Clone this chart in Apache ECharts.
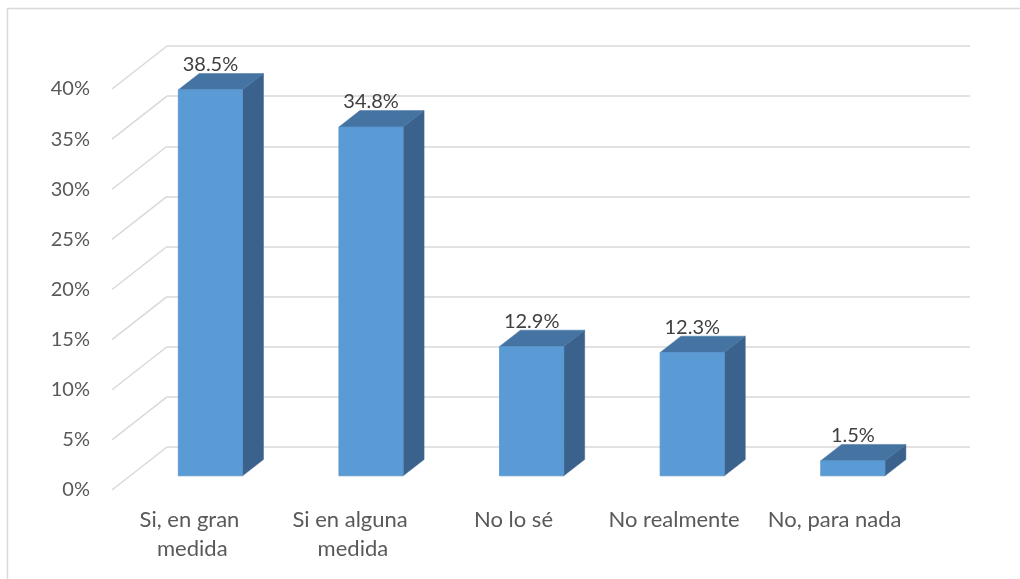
<!DOCTYPE html>
<html>
<head>
<meta charset="utf-8">
<script src="https://cdn.jsdelivr.net/npm/echarts@6/dist/echarts.min.js"></script>
<style>
html,body{margin:0;padding:0;background:#fff;}
#chart{width:1020px;height:579px;}
</style>
</head>
<body>
<div id="chart"></div>
<script>
// ---- data ----
const categories = ['Si, en gran medida', 'Si en alguna medida', 'No lo sé', 'No realmente', 'No, para nada'];
const values = [38.5, 34.8, 12.9, 12.3, 1.5];
const tickValues = [0, 5, 10, 15, 20, 25, 30, 35, 40];

// ---- 3D projection constants (oblique depth vector from back wall to front plane) ----
const DEPTH_X = -55, DEPTH_Y = 43;
const BAR_FRONT = 0.67, BAR_BACK = 0.29;
const FONT = 'Lato, "Open Sans", sans-serif';

const chart = echarts.init(document.getElementById('chart'), null, {renderer: 'canvas'});

const option = {
  animation: false,
  backgroundColor: '#ffffff',
  graphic: [{
    type: 'rect', z: -10,
    shape: {x: 7.5, y: 8.5, width: 1100, height: 700},
    style: {fill: 'none', stroke: '#D9D9D9', lineWidth: 1.5}
  }],
  grid: [
    // back wall
    {left: 167, right: 50, top: 46, bottom: 132},
    // front plane (for labels)
    {left: 112, right: 105, top: 89, bottom: 89}
  ],
  xAxis: [
    {type: 'category', gridIndex: 0, data: categories,
     axisLine: {show: false}, axisTick: {show: false}, axisLabel: {show: false}, splitLine: {show: false}},
    {type: 'category', gridIndex: 1, data: categories,
     axisLine: {show: false}, axisTick: {show: false}, splitLine: {show: false},
     axisLabel: {interval: 0, margin: 15, color: '#595959', fontSize: 22, fontFamily: FONT,
                 lineHeight: 29, width: 150, overflow: 'break', align: 'center'}}
  ],
  yAxis: [
    {type: 'value', gridIndex: 0, min: 0, max: 40, interval: 5,
     axisLine: {show: false}, axisTick: {show: false}, axisLabel: {show: false},
     splitLine: {show: true, lineStyle: {color: '#D9D9D9', width: 1.5}}},
    {type: 'value', gridIndex: 1, min: 0, max: 40, interval: 5,
     axisLine: {show: false}, axisTick: {show: false}, splitLine: {show: false},
     axisLabel: {margin: 22, color: '#595959', fontSize: 20, fontFamily: FONT,
                 formatter: v => v + '%'}}
  ],
  series: [
    {
      // side-wall diagonal gridlines
      type: 'custom', xAxisIndex: 0, yAxisIndex: 0, silent: true, z: 1,
      data: tickValues.map(v => [0, v]),
      renderItem: function (params, api) {
        const p = api.coord([0, api.value(1)]);
        const x = params.coordSys.x;
        return {
          type: 'line',
          shape: {x1: x, y1: p[1], x2: x + DEPTH_X, y2: p[1] + DEPTH_Y},
          style: {stroke: '#D9D9D9', lineWidth: 1.5}
        };
      }
    },
    {
      // 3D bars
      type: 'custom', xAxisIndex: 0, yAxisIndex: 0, z: 5,
      data: values.map((v, i) => [i, v]),
      renderItem: function (params, api) {
        const i = api.value(0), v = api.value(1);
        const top = api.coord([i, v]);
        const base = api.coord([i, 0]);
        const w = api.size([1, 0])[0] * 0.4;
        const cx = top[0] + DEPTH_X * BAR_FRONT;
        const xL = cx - w / 2, xR = cx + w / 2;
        const yT = top[1] + DEPTH_Y * BAR_FRONT;
        const yB = base[1] + DEPTH_Y * BAR_FRONT;
        const dx = DEPTH_X * (BAR_BACK - BAR_FRONT);
        const dy = DEPTH_Y * (BAR_BACK - BAR_FRONT);
        return {
          type: 'group',
          children: [
            {type: 'polygon', shape: {points: [[xR, yT], [xR + dx, yT + dy], [xR + dx, yB + dy], [xR, yB]]},
             style: {fill: '#3A628C', stroke: '#3A628C', lineWidth: 0.5}},
            {type: 'polygon', shape: {points: [[xL, yT], [xR, yT], [xR + dx, yT + dy], [xL + dx, yT + dy]]},
             style: {fill: '#4574A3', stroke: '#4574A3', lineWidth: 0.5}},
            {type: 'rect', shape: {x: xL, y: yT, width: w, height: yB - yT},
             style: {fill: '#5B9BD5', stroke: '#5793CB', lineWidth: 0.8}},
            {type: 'text',
             style: {text: v.toFixed(1) + '%', x: cx, y: yT + dy - 9, align: 'center', verticalAlign: 'middle',
                     fill: '#404040', fontSize: 20, fontFamily: FONT}}
          ]
        };
      }
    }
  ]
};
chart.setOption(option);
</script>
</body>
</html>
